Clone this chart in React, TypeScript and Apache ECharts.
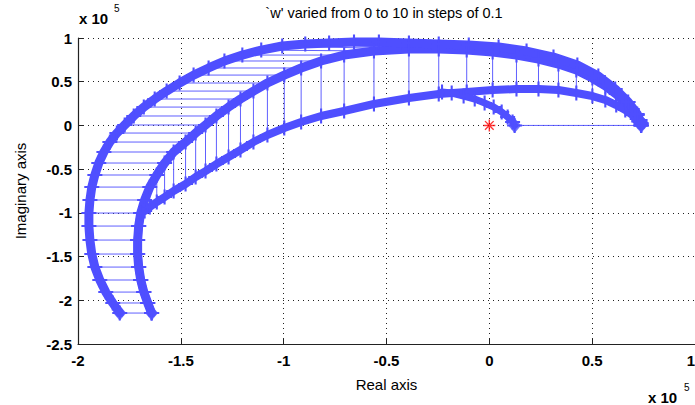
import React, { useEffect, useRef } from "react";
import * as echarts from "echarts";

// Values in units of 1e5
const re1 = [-1.797,-1.831,-1.865,-1.894,-1.918,-1.933,-1.942,-1.947,-1.947,-1.942,-1.933,-1.918,-1.899,-1.874,-1.845,-1.811,-1.773,-1.729,-1.680,-1.627,-1.569,-1.506,-1.438,-1.365,-1.288,-1.201,-1.109,-1.007,-0.895,-0.779,-0.658,-0.537,-0.391,-0.246,-0.100,0.045,0.181,0.312,0.428,0.530,0.612,0.675,0.719,0.738];
const im1 = [-2.146,-2.031,-1.906,-1.768,-1.620,-1.471,-1.311,-1.151,-1.002,-0.853,-0.705,-0.567,-0.430,-0.304,-0.190,-0.087,0.005,0.108,0.210,0.302,0.393,0.485,0.576,0.657,0.737,0.805,0.862,0.908,0.931,0.942,0.954,0.954,0.942,0.931,0.920,0.897,0.851,0.782,0.691,0.565,0.416,0.268,0.130,0];
const re2 = [-1.642,-1.661,-1.680,-1.695,-1.705,-1.710,-1.710,-1.705,-1.695,-1.676,-1.651,-1.617,-1.579,-1.535,-1.477,-1.428,-1.380,-1.327,-1.268,-1.210,-1.147,-1.079,-0.997,-0.915,-0.818,-0.706,-0.561,-0.391,-0.246,-0.110,0.016,0.132,0.239,0.336,0.423,0.501,0.564,0.617,0.661,0.695,0.719,0.733,0.738,0.738];
const im2 = [-2.146,-2.031,-1.906,-1.768,-1.620,-1.471,-1.311,-1.151,-1.002,-0.853,-0.705,-0.567,-0.430,-0.304,-0.190,-0.087,0.005,0.108,0.210,0.302,0.393,0.485,0.576,0.657,0.737,0.805,0.851,0.874,0.874,0.862,0.840,0.805,0.759,0.702,0.634,0.542,0.451,0.359,0.268,0.188,0.119,0.062,0.027,0];
const re3 = [-1.642,-1.661,-1.680,-1.695,-1.705,-1.710,-1.710,-1.705,-1.695,-1.676,-1.651,-1.617,-1.579,-1.535,-1.477,-1.428,-1.380,-1.327,-1.268,-1.210,-1.147,-1.079,-0.997,-0.915,-0.818,-0.706,-0.561,-0.391,-0.246,-0.110,0.016,0.132,0.239,0.336,0.423,0.501,0.564,0.617,0.661,0.695,0.719,0.733,0.738,0.738];
const im3 = [-2.146,-2.031,-1.906,-1.768,-1.620,-1.471,-1.311,-1.151,-1.002,-0.979,-0.933,-0.876,-0.819,-0.750,-0.670,-0.590,-0.522,-0.442,-0.361,-0.281,-0.190,-0.110,-0.030,0.039,0.108,0.165,0.245,0.313,0.359,0.382,0.405,0.416,0.416,0.405,0.371,0.336,0.291,0.233,0.176,0.119,0.073,0.039,0.016,0];
const re4 = [-0.230,-0.183,-0.125,-0.071,-0.023,0.021,0.060,0.089,0.113,0.123];
const im4 = [0.382,0.371,0.336,0.302,0.256,0.210,0.153,0.096,0.039,0];
const origin = [[0, 0]];

const xTicks = { min: -2, max: 1, interval: 0.5 };
const yTicks = { min: -2.5, max: 1, interval: 0.5 };

const BLUE = "#4f4fff";
const PLUS = "path://M4.3,0h1.4v4.3h4.3v1.4h-4.3v4.3h-1.4v-4.3h-4.3v-1.4h4.3z";
const STAR = "path://M4.4,0h1.2v10h-1.2z M0,4.4h10v1.2h-10z M1,1.8L1.8,1L9,8.2L8.2,9z M9,1.8L1.8,9L1,8.2L8.2,1z";
const FONT = "Liberation Sans";

export default function App() {
  const ref = useRef<HTMLDivElement>(null);
  useEffect(() => {
    if (!ref.current) return;
    const chart = echarts.init(ref.current, null, { renderer: "svg" });
    const zip = (a: number[], b: number[]) => a.map((v, i) => [v, b[i]]);
    const b1 = zip(re1, im1), b2 = zip(re2, im2), b3 = zip(re3, im3), b4 = zip(re4, im4);
    const links: any[] = b1.map((p, i) => ({ coords: [p, b2[i], b3[i]] }));
    links.push({ coords: [b4[b4.length - 1], b3[b3.length - 1]] });
    const ends = [b1[0], b2[0], b3[b3.length - 1], b4[b4.length - 1]];
    const branch = (data: number[][], w: number) => ({
      type: "line",
      data,
      symbol: PLUS,
      symbolSize: 15,
      showAllSymbol: true,
      lineStyle: { color: BLUE, width: w, cap: "round", join: "round" },
      itemStyle: { color: BLUE },
      z: 3,
    });
    chart.setOption({
      animation: false,
      grid: { left: 78, top: 38, width: 617, height: 306 },
      xAxis: {
        type: "value",
        ...xTicks,
        name: "Real axis",
        nameLocation: "middle",
        nameGap: 33,
        nameTextStyle: { fontFamily: FONT, fontSize: 15, color: "#000" },
        axisLine: { show: true, onZero: false, lineStyle: { color: "#222", width: 1.2 } },
        axisTick: { show: true, inside: true, length: 5, lineStyle: { color: "#222" } },
        axisLabel: { fontFamily: FONT, fontSize: 15, fontWeight: "bold", color: "#000", margin: 9, alignMaxLabel: "right" },
        splitLine: { show: true, lineStyle: { color: "#222", type: [1, 4], width: 1 } },
      },
      yAxis: {
        type: "value",
        ...yTicks,
        name: "Imaginary axis",
        nameLocation: "middle",
        nameGap: 50,
        nameTextStyle: { fontFamily: FONT, fontSize: 15, color: "#000" },
        axisLine: { show: true, onZero: false, lineStyle: { color: "#222", width: 1.2 } },
        axisTick: { show: true, inside: true, length: 5, lineStyle: { color: "#222" } },
        axisLabel: { fontFamily: FONT, fontSize: 15, fontWeight: "bold", color: "#000", margin: 6 },
        splitLine: { show: true, lineStyle: { color: "#222", type: [1, 4], width: 1 } },
      },
      graphic: [
        { type: "text", x: 384, y: 5, style: { text: "`w' varied from 0 to 10 in steps of 0.1", font: `14.5px ${FONT}`, fill: "#000", align: "center", verticalAlign: "top" } },
        { type: "text", left: 79, top: 11, style: { text: "x 10", font: `bold 15px ${FONT}`, fill: "#000" } },
        { type: "text", left: 114, top: 3, style: { text: "5", font: `10px ${FONT}`, fill: "#000" } },
        { type: "text", left: 648, top: 390, style: { text: "x 10", font: `bold 15px ${FONT}`, fill: "#000" } },
        { type: "text", left: 684, top: 382, style: { text: "5", font: `10px ${FONT}`, fill: "#000" } },
      ],
      series: [
        {
          type: "lines",
          coordinateSystem: "cartesian2d",
          polyline: true,
          data: links,
          lineStyle: { color: BLUE, width: 1, opacity: 0.9 },
          z: 2,
        },
        branch(b3, 8),
        branch(b2, 9),
        branch(b1, 9),
        branch(b4, 7),
        {
          type: "scatter",
          data: ends,
          symbol: "diamond",
          symbolSize: [13, 15],
          itemStyle: { color: BLUE },
          z: 4,
        },
        {
          type: "scatter",
          data: origin,
          symbol: STAR,
          symbolSize: 12,
          itemStyle: { color: "#ff0000" },
          z: 5,
        },
      ],
    });
    return () => chart.dispose();
  }, []);
  return (
    <div style={{ width: 695, height: 405, position: "absolute", left: 0, top: 0, overflow: "hidden" }}>
      <div ref={ref} style={{ width: 700, height: 405 }} />
    </div>
  );
}
